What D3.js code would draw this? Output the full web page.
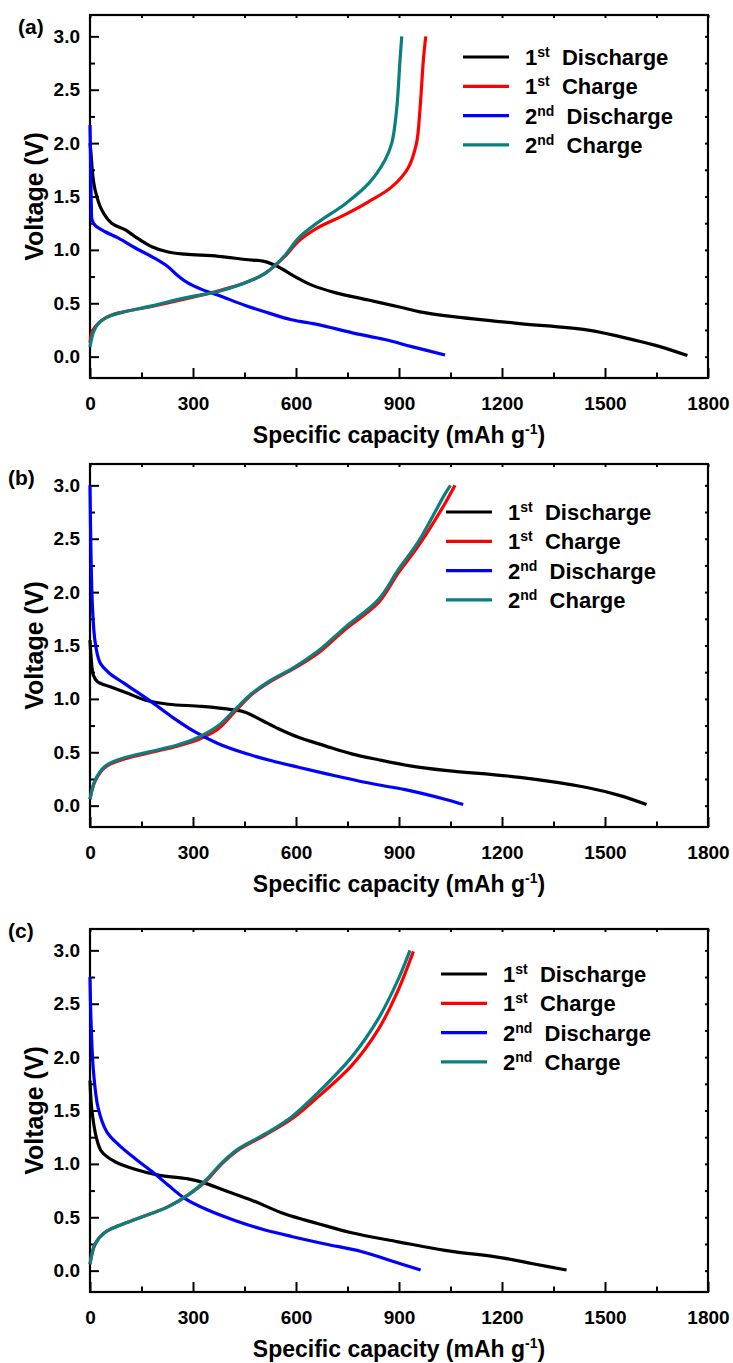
<!DOCTYPE html>
<html>
<head>
<meta charset="utf-8">
<script src="https://cdn.jsdelivr.net/npm/d3@7"></script>
<style>
  body { margin: 0; background: #fff; }
  text { font-family: "Liberation Sans", Arial, sans-serif; font-weight: bold; fill: #000; }
</style>
</head>
<body>
<svg id="chart" width="733" height="1363"></svg>
<script>
// legend / colours
const seriesNames = [["1", "st", "Discharge"], ["1", "st", "Charge"], ["2", "nd", "Discharge"], ["2", "nd", "Charge"]];
const seriesColors = ["#000000", "#ff0000", "#0000ff", "#0a7f7f"];
const panelLabels = ["(a)", "(b)", "(c)"];
const xTicks = [0, 300, 600, 900, 1200, 1500, 1800];
const xMinor = [150, 450, 750, 1050, 1350, 1650];
const yTicks = [0, 0.5, 1.0, 1.5, 2.0, 2.5, 3.0];
const yMinor = [0.25, 0.75, 1.25, 1.75, 2.25, 2.75];

// panel (a): [capacity mAh/g, voltage V]
const aDis1 = [[0, 2.0], [3, 1.9], [8, 1.7], [15, 1.56], [34, 1.375], [63, 1.25], [102, 1.19], [131, 1.125],
  [180, 1.03], [228, 0.98], [277, 0.96], [374, 0.94], [452, 0.91], [510, 0.89], [549, 0.84], [597, 0.75],
  [646, 0.67], [714, 0.60], [811, 0.53], [908, 0.46], [961, 0.42], [1058, 0.375], [1252, 0.31],
  [1447, 0.25], [1583, 0.157], [1660, 0.094], [1740, 0.01]];
const aCha1 = [[0, 0.13], [5, 0.22], [15, 0.28], [44, 0.36], [83, 0.41], [180, 0.47], [277, 0.54], [354, 0.60],
  [442, 0.68], [510, 0.78], [568, 0.94], [607, 1.08], [665, 1.21], [743, 1.33], [811, 1.45], [879, 1.59],
  [927, 1.77], [951, 2.0], [961, 2.31], [971, 2.78], [978, 3.0]];
const aDis2 = [[0, 2.17], [2, 1.8], [4, 1.4], [6, 1.28], [15, 1.23], [44, 1.17], [83, 1.11], [131, 1.02],
  [189, 0.92], [228, 0.84], [255, 0.76], [285, 0.69], [325, 0.63], [374, 0.575], [452, 0.48], [519, 0.41],
  [587, 0.345], [665, 0.30], [762, 0.225], [859, 0.16], [937, 0.094], [1034, 0.016]];
const aCha2 = [[0, 0.09], [10, 0.23], [24, 0.31], [53, 0.375], [102, 0.42], [180, 0.475], [277, 0.55],
  [374, 0.61], [442, 0.68], [510, 0.78], [568, 0.95], [607, 1.11], [665, 1.26], [743, 1.43], [811, 1.62],
  [859, 1.84], [879, 2.0], [893, 2.31], [903, 2.78], [908, 3.0]];

// panel (b)
const bDis1 = [[0, 1.55], [3, 1.4], [10, 1.22], [22, 1.16], [63, 1.11], [112, 1.05], [160, 0.99], [228, 0.95],
  [325, 0.93], [413, 0.90], [452, 0.875], [500, 0.80], [549, 0.72], [607, 0.64], [685, 0.56], [762, 0.485],
  [840, 0.43], [937, 0.37], [1034, 0.33], [1252, 0.265], [1447, 0.17], [1544, 0.094], [1621, 0.01]];
const bCha1 = [[0, 0.06], [15, 0.23], [44, 0.36], [102, 0.44], [180, 0.50], [257, 0.56], [316, 0.62],
  [374, 0.72], [422, 0.88], [471, 1.04], [519, 1.15], [597, 1.29], [665, 1.43], [743, 1.65], [840, 1.90],
  [898, 2.18], [956, 2.43], [1034, 2.83], [1063, 3.0]];
const bDis2 = [[0, 3.0], [3, 2.34], [7, 1.875], [15, 1.53], [29, 1.34], [53, 1.25], [102, 1.14], [180, 0.97],
  [248, 0.81], [306, 0.69], [374, 0.58], [452, 0.49], [529, 0.42], [607, 0.36], [714, 0.28], [830, 0.20],
  [918, 0.15], [1034, 0.06], [1087, 0.01]];
const bCha2 = [[0, 0.06], [15, 0.24], [44, 0.37], [102, 0.45], [180, 0.51], [257, 0.57], [316, 0.64],
  [374, 0.75], [422, 0.90], [471, 1.05], [519, 1.16], [597, 1.30], [665, 1.45], [743, 1.67], [840, 1.93],
  [898, 2.21], [956, 2.47], [1034, 2.92], [1050, 3.0]];

// panel (c)
const cDis1 = [[0, 1.78], [5, 1.52], [19, 1.24], [34, 1.115], [73, 1.02], [131, 0.95], [199, 0.895],
  [286, 0.86], [335, 0.82], [393, 0.75], [471, 0.66], [568, 0.53], [665, 0.44], [762, 0.355], [898, 0.27],
  [1034, 0.19], [1200, 0.12], [1290, 0.065], [1388, 0.006]];
const cCha1 = [[0, 0.06], [15, 0.25], [44, 0.36], [83, 0.42], [141, 0.49], [228, 0.60], [286, 0.71],
  [335, 0.83], [384, 1.0], [432, 1.13], [510, 1.27], [587, 1.42], [665, 1.63], [762, 1.92], [840, 2.26],
  [898, 2.63], [942, 2.99]];
const cDis2 = [[0, 2.75], [3, 2.34], [10, 1.87], [24, 1.52], [49, 1.30], [83, 1.18], [131, 1.05], [180, 0.93],
  [228, 0.80], [277, 0.675], [345, 0.565], [422, 0.47], [500, 0.39], [587, 0.32], [685, 0.25], [790, 0.18],
  [870, 0.10], [963, 0.006]];
const cCha2 = [[0, 0.06], [15, 0.25], [44, 0.36], [83, 0.42], [141, 0.49], [228, 0.60], [286, 0.71],
  [335, 0.84], [384, 1.01], [432, 1.14], [510, 1.28], [587, 1.44], [665, 1.67], [762, 2.0], [840, 2.36],
  [898, 2.73], [932, 3.0]];

const panelData = [[aDis1, aCha1, aDis2, aCha2], [bDis1, bCha1, bDis2, bCha2], [cDis1, cCha1, cDis2, cCha2]];

// layout
const left = 90, right = 708, plotH = 363;
const tops = [15, 464, 929];
const legendPos = [{x: 463, y: 57}, {x: 446, y: 512}, {x: 441, y: 974}];
const panelLabelPos = [{x: 18, y: 27}, {x: 8, y: 478}, {x: 8, y: 931}];

const svg = d3.select("#chart");
const x = d3.scaleLinear().domain([0, 1800]).range([left, right]);

panelData.forEach(function (series, i) {
  const top = tops[i], bottom = top + plotH;
  const y = d3.scaleLinear().domain([-0.2, 3.2]).range([bottom, top]);
  const g = svg.append("g");

  // bottom axis with labels, inward ticks
  const bx = g.append("g").attr("transform", "translate(0," + bottom + ")")
    .call(d3.axisBottom(x).tickValues(xTicks).tickSizeInner(-10).tickSizeOuter(0).tickPadding(19)
      .tickFormat(d3.format("d")));
  bx.selectAll("text").style("font-size", "19px");
  g.append("g").attr("transform", "translate(0," + bottom + ")")
    .call(d3.axisBottom(x).tickValues(xMinor).tickSizeInner(-5.5).tickSizeOuter(0).tickFormat(""));
  // top axis: short ticks only
  g.append("g").attr("transform", "translate(0," + top + ")")
    .call(d3.axisTop(x).tickValues(xTicks.concat(xMinor)).tickSizeInner(-3).tickSizeOuter(0).tickFormat(""));

  // left axis
  const ly = g.append("g").attr("transform", "translate(" + left + ",0)")
    .call(d3.axisLeft(y).tickValues(yTicks).tickSizeInner(-9).tickSizeOuter(0).tickPadding(10)
      .tickFormat(d3.format(".1f")));
  ly.selectAll("text").style("font-size", "19px");
  g.append("g").attr("transform", "translate(" + left + ",0)")
    .call(d3.axisLeft(y).tickValues(yMinor).tickSizeInner(-5).tickSizeOuter(0).tickFormat(""));
  g.append("g").attr("transform", "translate(" + right + ",0)")
    .call(d3.axisRight(y).tickValues(yTicks.concat(yMinor)).tickSizeInner(-3).tickSizeOuter(0).tickFormat(""));

  g.selectAll(".domain").remove();
  g.selectAll(".tick line").attr("stroke", "#000").attr("stroke-width", 2);
  g.selectAll(".tick text").attr("fill", "#000").style("font-family", "'Liberation Sans', Arial, sans-serif");

  // frame
  g.append("rect").attr("x", left).attr("y", top).attr("width", right - left).attr("height", plotH)
    .attr("fill", "none").attr("stroke", "#000").attr("stroke-width", 2.2);

  // curves
  const line = d3.line().x(d => x(d[0])).y(d => y(d[1])).curve(d3.curveCatmullRom.alpha(0.5));
  series.forEach(function (pts, k) {
    g.append("path").datum(pts).attr("d", line).attr("fill", "none")
      .attr("stroke", seriesColors[k]).attr("stroke-width", 3.2).attr("stroke-linejoin", "round");
  });

  // axis titles
  const xt = g.append("text").attr("x", (left + right) / 2).attr("y", bottom + 65)
    .attr("text-anchor", "middle").style("font-size", "23px");
  xt.append("tspan").text("Specific capacity (mAh g");
  xt.append("tspan").attr("dy", -9).style("font-size", "14px").text("-1");
  xt.append("tspan").attr("dy", 9).text(")");

  g.append("text").attr("transform", "translate(" + 43 + "," + ((top + bottom) / 2) + ") rotate(-90)")
    .attr("text-anchor", "middle").style("font-size", "25px").text("Voltage (V)");

  g.append("text").attr("x", panelLabelPos[i].x).attr("y", panelLabelPos[i].y).attr("dy", "0.35em")
    .style("font-size", "21px").text(panelLabels[i]);

  // legend
  const lp = legendPos[i];
  seriesNames.forEach(function (nm, k) {
    const yy = lp.y + k * 29.3;
    g.append("line").attr("x1", lp.x).attr("x2", lp.x + 46).attr("y1", yy).attr("y2", yy)
      .attr("stroke", seriesColors[k]).attr("stroke-width", 3.2);
    const t = g.append("text").attr("x", lp.x + 62).attr("y", yy).attr("dy", "0.36em").style("font-size", "22px");
    t.append("tspan").text(nm[0]);
    t.append("tspan").attr("dy", -8).style("font-size", "14px").text(nm[1]);
    t.append("tspan").attr("dy", 8).text("\u00a0 " + nm[2]);
  });
});
</script>
</body>
</html>
